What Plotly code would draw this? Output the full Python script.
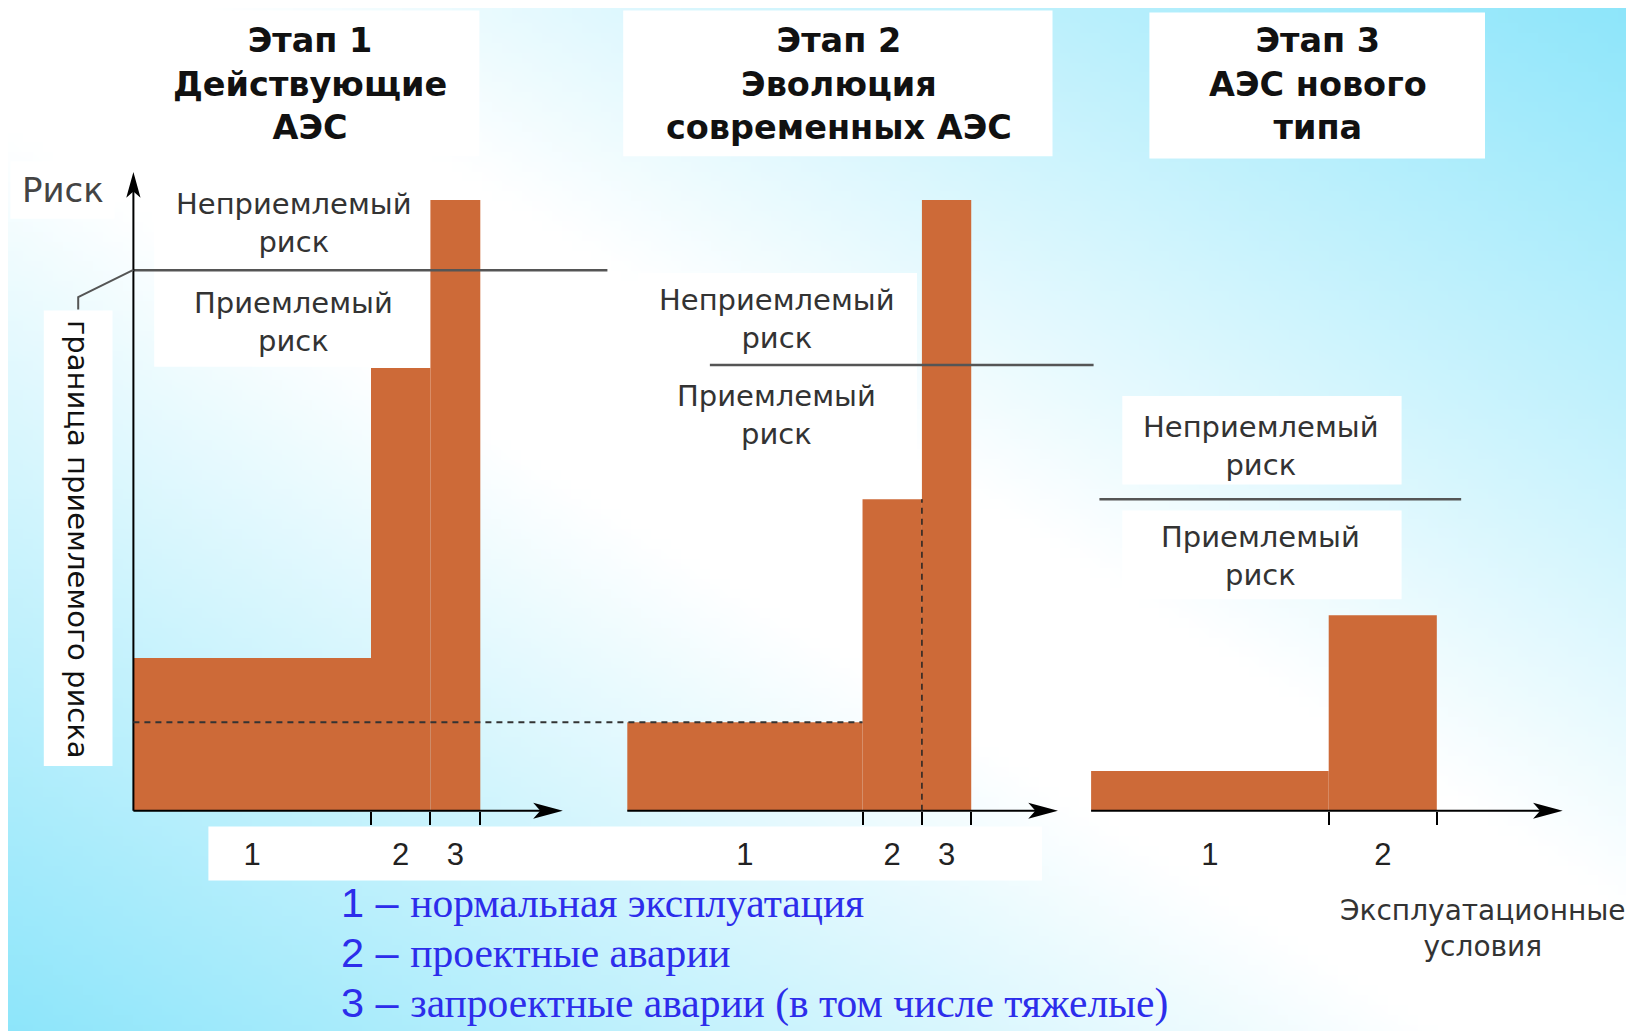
import zlib, struct, base64
import numpy as np
import plotly.graph_objects as go

# ---------------- data ----------------
stage_titles = ["Этап 1<br>Действующие<br>АЭС",
                "Этап 2<br>Эволюция<br>современных АЭС",
                "Этап 3<br>АЭС нового<br>типа"]

cond_labels_1 = ["1", "2", "3"]
cond_widths_1 = [4.0, 1.0, 0.84]
risk_1 = [2.5, 7.25, 10.0]

cond_labels_2 = ["1", "2", "3"]
cond_widths_2 = [3.96, 1.0, 0.83]
risk_2 = [1.45, 5.1, 10.0]

cond_labels_3 = ["1", "2"]
cond_widths_3 = [4.0, 1.82]
risk_3 = [0.65, 3.2]

acceptable_limit = [8.85, 7.3, 5.1]

legend_numbers = ["1", "2", "3"]
legend_items = ["нормальная эксплуатация", "проектные аварии",
                "запроектные аварии (в том числе тяжелые)"]

# ---------------- layout constants ----------------
W, H = 1634, 1031
OFF = 8.0          # page margin around the plot
XS = 59.4          # px per x unit
YS = 61.06         # px per risk unit
BASE_PY = 810.7 - OFF
ORIGINS = [133.4 - OFF, 627.3 - OFF, 1091.1 - OFF]
AXIS_END = [7.23, 7.25, 7.94]
Y_TOP = 10.46
LIMIT_SPAN = [(0, 7.98), (1.39, 7.85), (0.14, 6.23)]
LABEL_X = [2.70, 2.52, 2.86]
LABEL_SHIFT = [(47, -52), (46, -50), (53, -57)]
BAR = "#CD6A38"
SANS = "Liberation Sans"
WIDE = "DejaVu Sans"
SERIF = "Liberation Serif"
AX_IDS = ["x", "x2", "x3"]


def xp(px):
    return (px - OFF) / W


def yp(py):
    return 1 - (py - OFF) / H


# ---------------- background gradient image ----------------
def gradient_png(w, h):
    cyan = (140, 229, 250)
    rows = []
    for j in range(h):
        row = bytearray([0])
        for i in range(w):
            t = (i + 0.5) / w - (j + 0.5) / h
            a = max(0.0, min(1.0, (abs(t) - 0.12) / 0.88))
            for c in cyan:
                row.append(int(round(255 * (1 - a) + c * a)))
        rows.append(bytes(row))
    raw = b"".join(rows)

    def chunk(tag, data):
        return (struct.pack(">I", len(data)) + tag + data +
                struct.pack(">I", zlib.crc32(tag + data) & 0xffffffff))
    png = (b"\x89PNG\r\n\x1a\n" +
           chunk(b"IHDR", struct.pack(">IIBBBBB", w, h, 8, 2, 0, 0, 0)) +
           chunk(b"IDAT", zlib.compress(raw, 9)) + chunk(b"IEND", b""))
    return "data:image/png;base64," + base64.b64encode(png).decode()


fig = go.Figure()
shapes = []
annotations = []

xranges = [[-o / XS, (W - o) / XS] for o in ORIGINS]
yrange = [-(H - BASE_PY) / YS, BASE_PY / YS]


def to_paper(k, v):
    r = xranges[k]
    return (v - r[0]) / (r[1] - r[0])


# white backgrounds (page pixels)
def white_box(x0, y0, x1, y1):
    shapes.append(dict(type="rect", xref="paper", yref="paper", layer="below",
                       x0=xp(x0), x1=xp(x1), y0=yp(y1), y1=yp(y0),
                       fillcolor="white", line=dict(width=0)))


white_box(140.7, 10.4, 479.4, 156.3)
white_box(623.2, 10.4, 1052.5, 156.3)
white_box(1149.4, 12.5, 1485, 158.4)
white_box(10.4, 161.5, 114.6, 218.8)
white_box(154.2, 172, 432.5, 366.8)
white_box(637.8, 273, 917, 458.5)
white_box(1122.3, 396, 1401.6, 484.6)
white_box(1122.3, 510.6, 1401.6, 599.2)
white_box(43.8, 310.5, 112.5, 766)
white_box(208.4, 826.4, 1042, 880.6)

panels = [(cond_labels_1, cond_widths_1, risk_1),
          (cond_labels_2, cond_widths_2, risk_2),
          (cond_labels_3, cond_widths_3, risk_3)]

layout_axes = {}
for k, (labs, ws, rs) in enumerate(panels):
    ws = np.array(ws)
    bounds = np.cumsum(ws)
    centers = bounds - ws / 2
    ax = AX_IDS[k]
    fig.add_trace(go.Bar(x=centers, y=rs, width=ws, base=0,
                         marker=dict(color=BAR, line=dict(width=0)),
                         xaxis=ax, yaxis="y", showlegend=False,
                         hoverinfo="skip"))
    axname = "xaxis" if k == 0 else f"xaxis{k + 1}"
    axd = dict(domain=[0, 1], range=xranges[k], anchor="free",
               position=1 - BASE_PY / H, showline=False, showgrid=False,
               zeroline=False, tickmode="array", tickvals=list(centers),
               ticktext=labs, ticks="", ticklabelstandoff=22,
               tickfont=dict(family=SANS, size=31, color="#222"),
               minor=dict(tickmode="array", tickvals=list(bounds),
                          ticks="outside", ticklen=13, tickwidth=2,
                          tickcolor="black", showgrid=False))
    if k > 0:
        axd["overlaying"] = "x"
    layout_axes[axname] = axd

    # x axis line + arrow head
    e = AXIS_END[k]
    shapes.append(dict(type="line", xref=ax, yref="y", x0=0, x1=e - 0.3,
                       y0=0, y1=0, line=dict(color="black", width=2)))
    shapes.append(dict(type="path", xref=ax, yref="y",
                       path=f"M {e},0 L {e - 0.5},0.13 L {e - 0.38},0 L {e - 0.5},-0.13 Z",
                       fillcolor="black", line=dict(width=0)))

    # acceptable-risk limit line
    s0, s1 = LIMIT_SPAN[k]
    shapes.append(dict(type="line", xref=ax, yref="y", x0=s0, x1=s1,
                       y0=acceptable_limit[k], y1=acceptable_limit[k],
                       line=dict(color="#555", width=2.5)))
    up, dn = LABEL_SHIFT[k]
    annotations.append(dict(xref=ax, yref="y", x=LABEL_X[k], y=acceptable_limit[k],
                            yshift=up, text="Неприемлемый<br>риск", showarrow=False,
                            font=dict(family=WIDE, size=29, color="#333"),
                            xanchor="center", yanchor="middle", align="center"))
    annotations.append(dict(xref=ax, yref="y", x=LABEL_X[k], y=acceptable_limit[k],
                            yshift=dn, text="Приемлемый<br>риск", showarrow=False,
                            font=dict(family=WIDE, size=29, color="#333"),
                            xanchor="center", yanchor="middle", align="center"))

# y axis line + arrow (panel 1)
shapes.append(dict(type="line", xref="x", yref="y", x0=0, x1=0, y0=0, y1=Y_TOP - 0.3,
                   line=dict(color="black", width=2)))
shapes.append(dict(type="path", xref="x", yref="y",
                   path=f"M 0,{Y_TOP} L -0.12,{Y_TOP - 0.42} L 0,{Y_TOP - 0.32} L 0.12,{Y_TOP - 0.42} Z",
                   fillcolor="black", line=dict(width=0)))

# dashed comparison lines
b2 = np.cumsum(cond_widths_2)
shapes.append(dict(type="line", xref="paper", yref="y",
                   x0=to_paper(0, 0), x1=to_paper(1, b2[0]),
                   y0=risk_2[0], y1=risk_2[0],
                   line=dict(color="#333", width=2, dash="6px,5px")))
shapes.append(dict(type="line", xref="x2", yref="y", x0=b2[1], x1=b2[1],
                   y0=0, y1=risk_2[1],
                   line=dict(color="#222", width=1.5, dash="6px,5px")))

# connector to rotated label
shapes.append(dict(type="path", xref="paper", yref="paper",
                   path=f"M {xp(133.4)},{yp(269.9)} L {xp(78.2)},{yp(297)} L {xp(78.2)},{yp(309.5)}",
                   line=dict(color="#555", width=2)))

# headers
for t, cx in zip(stage_titles, [309.5, 839, 1318]):
    annotations.append(dict(xref="paper", yref="paper", x=xp(cx), y=yp(84),
                            text=f"<b>{t}</b>", showarrow=False, align="center",
                            xanchor="center", yanchor="middle",
                            font=dict(family=WIDE, size=33.5, color="#111")))

annotations.append(dict(xref="paper", yref="paper", x=xp(62.5), y=yp(189.7),
                        text="Риск", showarrow=False, xanchor="center", yanchor="middle",
                        font=dict(family=WIDE, size=34, color="#444")))
annotations.append(dict(xref="paper", yref="paper", x=xp(78), y=yp(539),
                        text="граница приемлемого риска", textangle=90,
                        showarrow=False, xanchor="center", yanchor="middle",
                        font=dict(family=WIDE, size=29, color="#111")))
annotations.append(dict(xref="paper", yref="paper", x=xp(1483), y=yp(928.5),
                        text="Эксплуатационные<br>условия", showarrow=False,
                        xanchor="center", yanchor="middle", align="center",
                        font=dict(family=WIDE, size=28, color="#333")))

for n, item, cy in zip(legend_numbers, legend_items, [902.5, 952.5, 1002.5]):
    annotations.append(dict(xref="paper", yref="paper", x=xp(338.7), y=yp(cy),
                            text=f'<span style="font-family:{SANS}">{n} – </span>{item}',
                            showarrow=False, xanchor="left", yanchor="middle",
                            font=dict(family=SERIF, size=41.5, color="rgb(45,45,235)")))

fig.update_layout(
    width=W, height=H, autosize=False,
    margin=dict(l=0, r=0, t=0, b=0),
    paper_bgcolor="white", plot_bgcolor="rgba(0,0,0,0)",
    showlegend=False, barmode="overlay",
    yaxis=dict(domain=[0, 1], range=yrange, visible=False, anchor="x",
               showgrid=False, zeroline=False),
    shapes=shapes, annotations=annotations,
    images=[dict(source=gradient_png(164, 104), xref="paper", yref="paper",
                 x=0, y=1, sizex=1, sizey=1, xanchor="left", yanchor="top",
                 sizing="stretch", layer="below")],
    **layout_axes,
)

fig.write_html("out.html")
